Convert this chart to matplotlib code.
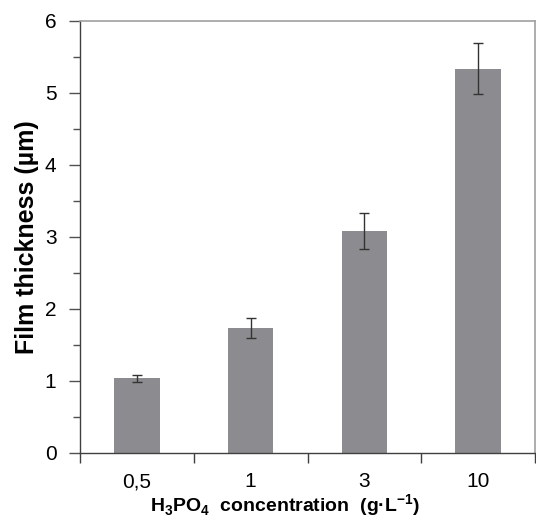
import numpy as np
import matplotlib.pyplot as plt
from matplotlib.ticker import MultipleLocator, FixedLocator

plt.rcParams['font.family'] = ['Liberation Sans', 'DejaVu Sans']
plt.rcParams['mathtext.fontset'] = 'custom'
plt.rcParams['mathtext.rm'] = 'Liberation Sans'
plt.rcParams['mathtext.bf'] = 'Liberation Sans:bold'

# data
concentrations = ['0,5', '1', '3', '10']
thickness = [1.04, 1.74, 3.09, 5.34]
thickness_err = [0.05, 0.14, 0.25, 0.35]

fig = plt.figure(figsize=(5.36, 5.21), dpi=100)
ax = fig.add_axes([80 / 536, 68 / 521, 455 / 536, 432 / 521])

x = np.arange(len(concentrations))
ax.bar(x, thickness, width=0.4, color='#8c8c90', zorder=2)
ax.errorbar(x, thickness, yerr=thickness_err, fmt='none', ecolor='#333333',
            elinewidth=1, capsize=3.5, capthick=1, zorder=3)

ax.set_xlim(-0.5, len(concentrations) - 0.5)
ax.set_ylim(0, 6)

# category labels in the middle, tick marks between categories
ax.set_xticks(x)
ax.set_xticklabels(concentrations)
ax.xaxis.set_minor_locator(FixedLocator(np.arange(-0.5, len(concentrations), 1.0)))
ax.tick_params(axis='x', which='major', length=0, pad=14, labelsize=15)
ax.tick_params(axis='x', which='minor', direction='out', length=7, width=1, color='#404040')

ax.yaxis.set_major_locator(MultipleLocator(1))
ax.yaxis.set_minor_locator(MultipleLocator(0.5))
ax.tick_params(axis='y', which='major', direction='out', length=8, width=1,
               color='#505050', pad=9, labelsize=15)
ax.tick_params(axis='y', which='minor', direction='out', length=5, width=1, color='#505050')

for side in ['left', 'bottom']:
    ax.spines[side].set_color('#404040')
    ax.spines[side].set_linewidth(1)
for side in ['top', 'right']:
    ax.spines[side].set_color('#a0a0a0')
    ax.spines[side].set_linewidth(1.2)

ax.set_ylabel('Film thickness (µm)', fontsize=18, fontweight='bold', labelpad=4)
ax.set_xlabel(r'H$_\mathbf{3}$PO$_\mathbf{4}$  concentration  (g·L$^\mathbf{-1}$)',
              fontsize=14, fontweight='bold')
ax.xaxis.set_label_coords(0.45, -0.092)

fig.savefig('out.png', dpi=100)
